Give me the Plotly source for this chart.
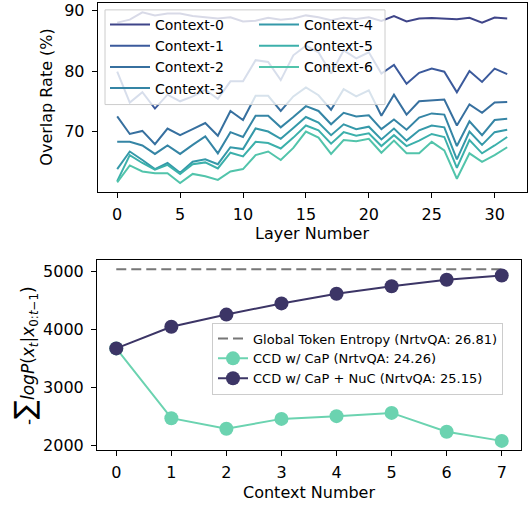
import plotly.graph_objects as go

# ---------------- data ----------------
layers = list(range(32))
layer_ticks = [0, 5, 10, 15, 20, 25, 30]
overlap_ticks = [70, 80, 90]

ctx0 = [88.0, 88.5, 89.7, 89.2, 89.5, 89.5, 89.1, 88.9, 88.7, 88.9, 88.2, 88.3, 88.8, 88.5, 88.7, 89.2,
        88.9, 88.4, 88.8, 88.6, 88.9, 88.3, 89.1, 88.2, 88.7, 88.75, 88.7, 88.55, 88.8, 88.0, 88.85, 88.7]
ctx1 = [79.9, 74.8, 76.5, 73.8, 76.1, 75.0, 75.8, 76.9, 75.4, 78.3, 78.3, 81.8, 81.5, 78.5, 82.6, 84.2,
        83.1, 79.6, 83.4, 82.1, 83.1, 79.6, 81.0, 77.9, 79.7, 80.4, 79.9, 76.5, 80.0, 78.2, 80.4, 79.5]
ctx2 = [72.5, 69.6, 70.1, 67.9, 70.5, 69.4, 70.4, 71.4, 69.3, 73.4, 71.9, 75.9, 75.9, 73.4, 75.8, 77.3,
        76.0, 73.6, 77.0, 75.8, 76.8, 72.6, 76.1, 72.8, 75.0, 75.1, 75.3, 71.0, 74.5, 73.1, 74.8, 74.9]
ctx3 = [68.3, 68.3, 67.7, 66.3, 67.7, 66.3, 67.8, 69.2, 66.4, 69.9, 69.1, 72.6, 72.6, 70.7, 72.4, 74.2,
        73.4, 71.2, 73.1, 72.5, 72.7, 70.4, 72.0, 70.3, 72.3, 73.0, 72.8, 67.6, 71.7, 69.4, 71.9, 72.1]
ctx4 = [63.8, 66.7, 65.3, 63.8, 64.8, 63.2, 65.0, 65.4, 64.6, 67.4, 67.1, 70.5, 70.0, 68.8, 70.6, 72.4,
        71.5, 69.4, 71.2, 70.4, 70.8, 68.7, 70.5, 68.5, 70.2, 71.0, 70.7, 65.4, 70.0, 67.8, 69.9, 70.3]
ctx5 = [61.8, 66.1, 64.8, 63.7, 64.5, 63.0, 64.6, 64.9, 63.9, 66.5, 65.9, 68.3, 68.1, 67.2, 69.0, 71.0,
        70.2, 68.0, 69.9, 69.3, 69.7, 67.6, 69.4, 67.6, 68.5, 69.6, 69.1, 64.0, 68.6, 66.4, 67.7, 69.1]
ctx6 = [61.6, 64.4, 63.4, 63.1, 63.1, 61.5, 63.0, 62.6, 62.0, 63.4, 63.8, 66.1, 66.7, 65.3, 67.3, 70.0,
        69.0, 66.3, 68.6, 68.4, 68.8, 66.5, 68.5, 66.4, 66.4, 68.3, 66.9, 62.2, 66.4, 65.0, 66.1, 67.4]
context_series = [ctx0, ctx1, ctx2, ctx3, ctx4, ctx5, ctx6]
context_names = ["Context-0", "Context-1", "Context-2", "Context-3", "Context-4", "Context-5", "Context-6"]

context_numbers = [0, 1, 2, 3, 4, 5, 6, 7]
nll_ticks = [2000, 3000, 4000, 5000]
global_entropy = 5035
cap = [3670, 2465, 2283, 2453, 2500, 2556, 2232, 2073]
cap_nuc = [3670, 4044, 4254, 4447, 4613, 4743, 4856, 4930]
legend_names = ["Global Token Entropy (NrtvQA: 26.81)",
                "CCD w/ CaP (NrtvQA: 24.26)",
                "CCD w/ CaP + NuC (NrtvQA: 25.15)"]

# ---------------- style ----------------
W, H = 528, 508
FONT = "DejaVu Sans"
ctx_colors = ["#3f4589", "#3b5a9c", "#37709f", "#3585a5", "#3599a9", "#3cb0ab", "#52c4ab"]
green = "#6bd3b0"
purple = "#3c3566"
gray = "#777777"


def fx(px):
    return px / W


def fy(py):
    return 1 - py / H


fig = go.Figure()

for k, (vals, name) in enumerate(zip(context_series, context_names)):
    fig.add_trace(go.Scatter(
        x=layers, y=vals, mode="lines", name=name,
        line=dict(color=ctx_colors[k], width=2),
        xaxis="x", yaxis="y",
        legend="legend" if k < 4 else "legend2",
    ))

fig.add_trace(go.Scatter(
    x=context_numbers, y=[global_entropy] * len(context_numbers), mode="lines",
    name=legend_names[0], line=dict(color=gray, width=2, dash="10px,5px"),
    xaxis="x2", yaxis="y2", legend="legend3",
))
fig.add_trace(go.Scatter(
    x=context_numbers, y=cap, mode="lines+markers", name=legend_names[1],
    line=dict(color=green, width=2), marker=dict(color=green, size=14),
    xaxis="x2", yaxis="y2", legend="legend3",
))
fig.add_trace(go.Scatter(
    x=context_numbers, y=cap_nuc, mode="lines+markers", name=legend_names[2],
    line=dict(color=purple, width=2), marker=dict(color=purple, size=14),
    xaxis="x2", yaxis="y2", legend="legend3",
))

axis_common = dict(
    showline=True, mirror=True, linecolor="black", linewidth=1,
    ticks="outside", ticklen=5, tickwidth=1, tickcolor="black",
    showgrid=False, zeroline=False, ticklabeloverflow="allow",
    tickfont=dict(family=FONT, size=16, color="black"),
)
xcommon = dict(axis_common, ticklabelstandoff=3)
ycommon = dict(axis_common, ticklabelstandoff=4)

top_legend_font = dict(family=FONT, size=14, color="black")

fig.update_layout(
    width=W, height=H,
    margin=dict(l=0, r=0, t=0, b=0),
    paper_bgcolor="white", plot_bgcolor="white",
    font=dict(family=FONT, size=16, color="black"),
    xaxis=dict(domain=[fx(97.7), fx(526.7)], range=[-1.55, 32.55], anchor="y",
               tickvals=layer_ticks, **xcommon),
    yaxis=dict(domain=[fy(192.7), fy(1)], range=[60.0, 91.25], anchor="x",
               tickvals=overlap_ticks, **ycommon),
    xaxis2=dict(domain=[fx(97), fx(521)], range=[-0.35, 7.35], anchor="y2",
                tickvals=context_numbers, **xcommon),
    yaxis2=dict(domain=[fy(454), fy(262)], range=[1920, 5190], anchor="x2",
                tickvals=nll_ticks, **ycommon),
    legend=dict(x=fx(105), y=fy(7), xanchor="left", yanchor="top",
                bgcolor="rgba(0,0,0,0)", borderwidth=0, itemwidth=40,
                font=top_legend_font, tracegroupgap=0),
    legend2=dict(x=fx(254), y=fy(7), xanchor="left", yanchor="top",
                 bgcolor="rgba(0,0,0,0)", borderwidth=0, itemwidth=40,
                 font=top_legend_font, tracegroupgap=0),
    legend3=dict(x=fx(212), y=fy(325), xanchor="left", yanchor="top",
                 bgcolor="rgba(255,255,255,0.8)", bordercolor="#cccccc", borderwidth=1,
                 font=dict(family=FONT, size=13, color="black"), tracegroupgap=0),
    showlegend=True,
)

# shared translucent legend frame for the top panel
fig.add_shape(type="rect", xref="paper", yref="paper",
              x0=fx(105), x1=fx(385), y0=fy(104), y1=fy(8),
              fillcolor="rgba(255,255,255,0.8)", line=dict(color="#cccccc", width=1),
              layer="above")

ann = dict(xref="paper", yref="paper", showarrow=False, xanchor="center", yanchor="middle",
           font=dict(family=FONT, size=16, color="black"))
fig.add_annotation(text="Overlap Rate (%)", x=fx(47), y=fy(97), textangle=-90, **ann)
fig.add_annotation(text="Layer Number", x=fx(312), y=fy(235), **ann)
fig.add_annotation(
    text="-<span style='font-size:28px'>∑</span><i>logP</i>(<i>x</i><sub><i>t</i></sub>|<i>x</i><sub>0:<i>t</i>−1</sub>)",
    x=fx(24), y=fy(359), textangle=-90,
    xref="paper", yref="paper", showarrow=False, xanchor="center", yanchor="middle",
    font=dict(family=FONT, size=17, color="black"))
fig.add_annotation(text="Context Number", x=fx(309), y=fy(497), **ann)

fig.write_html("out.html")
